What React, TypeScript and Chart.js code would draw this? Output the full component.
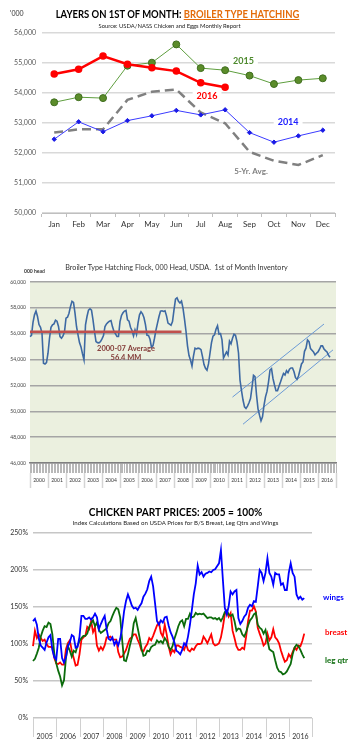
import React, { useEffect, useRef } from 'react';
import { Chart, registerables } from 'chart.js';
Chart.register(...registerables);

const FONT = 'Lato, "Liberation Sans", Arial, sans-serif';

// ---------- Chart 1: Layers on 1st of month ----------
const months = ['Jan', 'Feb', 'Mar', 'Apr', 'May', 'Jun', 'Jul', 'Aug', 'Sep', 'Oct', 'Nov', 'Dec'];
const hatch2016 = [54630, 54790, 55230, 54960, 54840, 54730, 54340, 54190];
const hatch2015 = [53690, 53860, 53830, 54910, 55010, 55620, 54830, 54760, 54580, 54300, 54430, 54490];
const hatch2014 = [52460, 53040, 52710, 53080, 53240, 53420, 53270, 53440, 52680, 52360, 52570, 52760];
const hatch5yr = [52680, 52790, 52790, 53770, 54040, 54120, 53350, 52990, 52040, 51740, 51600, 51930];

// ---------- Chart 2: Broiler type hatching flock ----------
const flockYears = ['2000', '2001', '2002', '2003', '2004', '2005', '2006', '2007', '2008', '2009', '2010', '2011', '2012', '2013', '2014', '2015', '2016'];
const flockValues = [
  55780, 55880, 56870, 57460, 57750, 57330, 56710, 56500, 56040, 53710,
  53660, 53760, 54490, 55650, 56500, 56690, 56760, 57050, 56970, 56560,
  55780, 55650, 55830, 56140, 57200, 57280, 57590, 58110, 58500, 58420,
  57590, 56560, 55910, 55310, 54980, 54440, 53970, 56690, 57330, 57820,
  57930, 57820, 57070, 56170, 55390, 55310, 55290, 55390, 55600, 55860,
  56560, 56760, 56870, 56970, 57020, 56530, 56170, 55990, 55780, 55780,
  56940, 57410, 57620, 57750, 57800, 57070, 56970, 56500, 56250, 55830,
  56300, 55940, 56820, 57460, 57690, 57540, 57230, 56690, 55880, 55860,
  55570, 54950, 55080, 55650, 56300, 56820, 57330, 57750, 57770, 57720,
  57770, 57380, 56820, 56740, 56660, 56940, 57850, 58680, 58780, 58500,
  58370, 58520, 57980, 57130, 56190, 55060, 54310, 53970, 53500, 54280,
  54880, 54820, 54880, 54850, 54770, 54230, 53610, 53320, 53170, 53660,
  54490, 55310, 55810, 55910, 56350, 56610, 55960, 56010, 55520, 54120,
  54360, 54590, 54360, 55420, 55210, 55650, 55960, 55880, 55370, 54510,
  52420, 51590, 50870, 50350, 50220, 50400, 50660, 50990, 51850, 52780,
  52680, 51280, 50190, 49700, 49260, 49570, 50450, 51120, 51540, 52260,
  53190, 53300, 52520, 52030, 51590, 51590, 51930, 52260, 52620, 52930,
  52810, 53140, 52990, 53250, 53350, 53350, 53060, 52600, 52470, 52730,
  53190, 53660, 53810, 54640, 54880, 55520, 55390, 54850, 54720, 54590,
  54360, 54490, 54590, 54800, 55060, 55060, 54820, 54690, 54590, 54330,
  54180,
];
const flockAvgValue = 56150;
const flockAvgSpan = [0, 101];
const trendUpper = [[135, 51100], [196, 56750]];
const trendLower = [[142, 49000], [202, 54750]];

// ---------- Chart 3: Chicken part prices ----------
const priceYears = ['2005', '2006', '2007', '2008', '2009', '2010', '2011', '2012', '2013', '2014', '2015', '2016'];
const wings = [
  131, 134, 126, 107, 98, 95, 92, 102, 109, 112,
  92, 82, 79, 107, 107, 81, 75, 82, 97, 102,
  112, 110, 95, 96, 110, 138, 138, 134, 134, 136,
  133, 136, 141, 136, 120, 127, 133, 138, 120, 107,
  105, 109, 99, 104, 98, 107, 122, 144, 158, 167,
  160, 152, 148, 149, 146, 151, 155, 164, 168, 174,
  185, 191, 178, 155, 131, 126, 132, 129, 136, 137,
  125, 116, 110, 102, 91, 89, 86, 92, 101, 98,
  110, 126, 146, 167, 182, 206, 194, 197, 191, 195,
  196, 198, 197, 200, 201, 205, 209, 227, 187, 149,
  140, 151, 171, 167, 171, 173, 135, 127, 131, 137,
  140, 149, 153, 151, 158, 157, 178, 200, 196, 185,
  196, 216, 196, 191, 180, 196, 194, 194, 180, 182,
  173, 173, 196, 209, 196, 191, 167, 161, 164, 160,
  162,
];
const breast = [
  97, 118, 108, 113, 108, 104, 106, 100, 96, 96,
  95, 81, 74, 73, 75, 72, 72, 93, 101, 105,
  91, 81, 71, 72, 86, 106, 109, 111, 123, 120,
  131, 116, 122, 98, 91, 96, 92, 98, 109, 109,
  110, 106, 106, 106, 89, 82, 83, 87, 92, 100,
  107, 109, 113, 113, 106, 100, 91, 90, 96, 100,
  108, 105, 111, 118, 125, 129, 115, 110, 126, 113,
  97, 86, 92, 89, 98, 98, 96, 95, 92, 100,
  92, 90, 94, 92, 97, 100, 100, 101, 110, 106,
  101, 107, 113, 101, 98, 99, 101, 109, 123, 140,
  145, 137, 142, 118, 108, 97, 92, 92, 95, 93,
  110, 131, 145, 145, 151, 144, 122, 114, 107, 98,
  101, 114, 105, 109, 120, 109, 106, 101, 91, 83,
  76, 78, 86, 82, 89, 95, 92, 98, 97, 104,
  114,
];
const legQtr = [
  77, 80, 87, 95, 110, 118, 124, 123, 129, 127,
  113, 87, 74, 64, 56, 44, 51, 81, 97, 91,
  83, 91, 89, 98, 104, 108, 111, 111, 114, 123,
  128, 132, 124, 129, 119, 115, 117, 119, 121, 128,
  131, 138, 144, 149, 147, 136, 106, 78, 77, 86,
  98, 108, 128, 135, 122, 109, 94, 84, 85, 91,
  90, 96, 98, 99, 105, 102, 104, 101, 108, 104,
  96, 92, 97, 107, 115, 124, 130, 132, 124, 134,
  134, 141, 136, 137, 142, 140, 141, 140, 141, 138,
  135, 136, 136, 134, 135, 133, 135, 131, 136, 143,
  145, 140, 138, 140, 131, 118, 121, 120, 113, 110,
  116, 125, 132, 135, 140, 142, 126, 122, 120, 114,
  119, 105, 93, 91, 89, 78, 68, 63, 62, 59,
  60, 63, 68, 73, 86, 95, 99, 97, 92, 86,
  81,
];

const MM = ['01', '02', '03', '04', '05', '06', '07', '08', '09', '10', '11', '12'];
function monthLabels(years: string[]) {
  const out: string[] = [];
  years.forEach((y) => MM.forEach((m) => out.push(`${y}-${m}`)));
  out.push(`${Number(years[years.length - 1]) + 1}-01`);
  return out;
}

type TextItem = {
  text: string; x?: number; y: number; color: string; font: string;
  align?: CanvasTextAlign; bg?: string; dxFromRight?: number;
};

function textPlugin(items: TextItem[]) {
  return {
    id: 'textLabels',
    afterDatasetsDraw(chart: any) {
      const { ctx, chartArea } = chart;
      const xs = chart.scales.x;
      const ys = chart.scales.y;
      for (const it of items) {
        const px = it.dxFromRight != null ? chartArea.right + it.dxFromRight : xs.getPixelForValue(it.x);
        const py = ys.getPixelForValue(it.y);
        ctx.save();
        ctx.font = it.font;
        ctx.textAlign = it.align || 'center';
        ctx.textBaseline = 'middle';
        if (it.bg) {
          const w = ctx.measureText(it.text).width;
          const left = it.align === 'left' ? px : px - w / 2;
          ctx.fillStyle = it.bg;
          ctx.fillRect(left - 4, py - 6, w + 8, 12);
        }
        ctx.fillStyle = it.color;
        ctx.fillText(it.text, px, py);
        ctx.restore();
      }
    },
  };
}

function areaBg(color: string) {
  return {
    id: 'areaBg',
    beforeDraw(chart: any) {
      const { ctx, chartArea } = chart;
      ctx.save();
      ctx.fillStyle = color;
      ctx.fillRect(chartArea.left, chartArea.top, chartArea.right - chartArea.left, chartArea.bottom - chartArea.top);
      ctx.restore();
    },
  };
}

function yearBoxes(from: number, to: number, color: string, width: number) {
  return {
    id: 'yearBoxes',
    afterDraw(chart: any) {
      const { ctx, chartArea } = chart;
      const xs = chart.scales.x;
      const n = xs.getLabels().length;
      ctx.save();
      ctx.strokeStyle = color;
      ctx.lineWidth = width;
      for (let i = 0; i < n; i += 12) {
        const px = Math.round(xs.getPixelForValue(i)) + 0.5;
        ctx.beginPath();
        ctx.moveTo(px, chartArea.bottom + from);
        ctx.lineTo(px, chartArea.bottom + to);
        ctx.stroke();
      }
      ctx.restore();
    },
  };
}

function ChartCanvas({ top, height, build }: { top: number; height: number; build: () => any }) {
  const ref = useRef<HTMLCanvasElement>(null);
  useEffect(() => {
    const chart = new Chart(ref.current as HTMLCanvasElement, build());
    return () => chart.destroy();
  }, []);
  return (
    <canvas
      ref={ref}
      width={351}
      height={height}
      style={{ position: 'absolute', left: 0, top, width: 351, height }}
    />
  );
}

const basePlugins = { legend: { display: false }, tooltip: { enabled: false } };

function layersConfig() {
  return {
    type: 'line',
    data: {
      labels: months,
      datasets: [
        { label: '2016', data: hatch2016, borderColor: '#FF0000', backgroundColor: '#FF0000', pointBorderColor: '#FF0000', borderWidth: 2.5, pointRadius: 2.5 },
        { label: '2015', data: hatch2015, borderColor: '#5E9E3E', backgroundColor: '#5B8C2A', pointBorderColor: '#3F6E1E', pointBorderWidth: 1, borderWidth: 1, pointRadius: 3.5 },
        { label: '2014', data: hatch2014, borderColor: '#3B3BFF', backgroundColor: '#1A1AE6', pointBorderColor: '#1A1AE6', borderWidth: 1, pointRadius: 2.2, pointStyle: 'rectRot' },
        { label: '5-Yr. Avg.', data: hatch5yr, borderColor: '#808080', borderWidth: 2.5, borderDash: [9, 5], pointRadius: 0 },
      ],
    },
    options: {
      responsive: false,
      animation: false,
      layout: { padding: { top: 33, left: 6, right: 16, bottom: 7 } },
      plugins: basePlugins,
      scales: {
        x: {
          offset: true,
          grid: { offset: true, drawOnChartArea: false, tickLength: 4, color: '#bfbfbf' },
          border: { color: '#bfbfbf' },
          ticks: { font: { family: FONT, size: 8 }, color: '#333', padding: 3, maxRotation: 0, autoSkip: false },
          afterFit: (s: any) => { s.height = 20; },
        },
        y: {
          min: 50000, max: 56000,
          ticks: { stepSize: 1000, font: { family: FONT, size: 7 }, color: '#595959', padding: 6 },
          grid: { color: '#d9d9d9', lineWidth: 1.5, drawTicks: false },
          border: { display: false },
          afterFit: (s: any) => { s.width = 36; },
        },
      },
    },
    plugins: [
      textPlugin([
        { text: '2015', x: 7.75, y: 55070, color: '#4E8A2E', font: `bold 9px ${FONT}`, bg: '#ffffff' },
        { text: '2016', x: 6.26, y: 53900, color: '#FF0000', font: `bold 9px ${FONT}`, bg: '#ffffff' },
        { text: '2014', x: 9.58, y: 53030, color: '#2020FF', font: `bold 9px ${FONT}`, bg: '#ffffff' },
        { text: '5-Yr. Avg.', x: 8.06, y: 51370, color: '#7F7F7F', font: `bold 8px ${FONT}` },
      ]),
    ],
  };
}

function flockConfig() {
  const labels = monthLabels(flockYears);
  return {
    type: 'line',
    data: {
      labels,
      datasets: [
        {
          data: flockAvgSpan.map((i) => ({ x: labels[i], y: flockAvgValue })),
          borderColor: '#C0504D', borderWidth: 2.5, pointRadius: 0,
        },
        { data: flockValues, borderColor: '#3D69A3', borderWidth: 1.6, pointRadius: 0 },
        { data: trendUpper.map(([i, v]) => ({ x: labels[i], y: v })), borderColor: '#6C9BD6', borderWidth: 1, pointRadius: 0 },
        { data: trendLower.map(([i, v]) => ({ x: labels[i], y: v })), borderColor: '#6C9BD6', borderWidth: 1, pointRadius: 0 },
      ],
    },
    options: {
      responsive: false,
      animation: false,
      layout: { padding: { top: 32, left: 4, right: 15, bottom: 4 } },
      plugins: basePlugins,
      scales: {
        x: {
          grid: { drawOnChartArea: false, tickLength: 10, color: '#b8b8b8', lineWidth: 1 },
          border: { color: '#808080', width: 1.5 },
          ticks: {
            autoSkip: false, maxRotation: 0, minRotation: 0, padding: 4,
            font: { family: FONT, size: 5 }, color: '#333',
            callback: (_v: any, i: number) => (i % 12 === 6 ? flockYears[Math.floor(i / 12)] : ''),
          },
          afterFit: (s: any) => { s.height = 28; },
        },
        y: {
          min: 46000, max: 60000,
          ticks: { stepSize: 2000, font: { family: FONT, size: 5 }, color: '#444', padding: 4 },
          grid: { color: '#a5a5a5', lineWidth: 1.5, drawTicks: false },
          border: { display: false },
          afterFit: (s: any) => { s.width = 26; },
        },
      },
    },
    plugins: [
      areaBg('#EBF0DF'),
      yearBoxes(10, 25, '#d4d4d4', 1.5),
      textPlugin([
        { text: '2000-07 Average', x: 64, y: 54820, color: '#843C39', font: `bold 7.5px ${FONT}` },
        { text: '56.4 MM', x: 64, y: 54120, color: '#843C39', font: `bold 7.5px ${FONT}` },
      ]),
    ],
  };
}

function pricesConfig() {
  const labels = monthLabels(priceYears);
  return {
    type: 'line',
    data: {
      labels,
      datasets: [
        { data: wings, borderColor: '#0000FF', borderWidth: 1.8, pointRadius: 0 },
        { data: legQtr, borderColor: '#0B6B0B', borderWidth: 1.8, pointRadius: 0 },
        { data: breast, borderColor: '#FF0000', borderWidth: 1.8, pointRadius: 0 },
      ],
    },
    options: {
      responsive: false,
      animation: false,
      layout: { padding: { top: 28, left: 4, right: 39, bottom: 5 } },
      plugins: basePlugins,
      scales: {
        x: {
          grid: { display: false },
          border: { display: false },
          ticks: {
            autoSkip: false, maxRotation: 0, minRotation: 0, padding: 7,
            font: { family: FONT, size: 7 }, color: '#333',
            callback: (_v: any, i: number) => (i % 12 === 6 ? priceYears[Math.floor(i / 12)] : ''),
          },
          afterFit: (s: any) => { s.height = 22; },
        },
        y: {
          min: 0, max: 250,
          ticks: { stepSize: 50, font: { family: FONT, size: 7 }, color: '#333', padding: 5, callback: (v: any) => `${v}%` },
          grid: { color: '#c6c6c6', lineWidth: 1.5, drawTicks: false },
          border: { display: false },
          afterFit: (s: any) => { s.width = 29; },
        },
      },
    },
    plugins: [
      yearBoxes(0, 19, '#d0d0d0', 1),
      textPlugin([
        { text: 'wings', dxFromRight: 11, y: 162.5, color: '#0000FF', font: `bold 8px ${FONT}`, align: 'left' },
        { text: 'breast', dxFromRight: 13, y: 115, color: '#FF0000', font: `bold 8px ${FONT}`, align: 'left' },
        { text: 'leg qtr', dxFromRight: 13, y: 77.5, color: '#0B6B0B', font: `bold 8px ${FONT}`, align: 'left' },
      ]),
    ],
  };
}

const abs = (top: number, extra: React.CSSProperties = {}): React.CSSProperties => ({
  position: 'absolute', top, left: 0, width: 351, textAlign: 'center', fontFamily: FONT, whiteSpace: 'nowrap', lineHeight: 1, ...extra,
});

export default function App() {
  return (
    <div style={{ position: 'absolute', left: 0, top: 0, width: 351, height: 748, background: '#fff', overflow: 'hidden' }}>
      <ChartCanvas top={0} height={240} build={layersConfig} />
      <ChartCanvas top={250} height={245} build={flockConfig} />
      <ChartCanvas top={505} height={240} build={pricesConfig} />

      <div style={abs(10, { left: 10, width: 'auto', textAlign: 'left', fontSize: 7, color: '#333' })}>'000</div>
      <div style={abs(9, { left: 2, fontSize: 10.5, fontWeight: 700, color: '#000', transform: 'scaleX(0.9)' })}>
        LAYERS ON 1ST OF MONTH:{' '}
        <span style={{ color: '#E46C0A', textDecoration: 'underline' }}>BROILER TYPE HATCHING</span>
      </div>
      <div style={abs(23, { left: -6, fontSize: 6.5, color: '#222', transform: 'scaleX(0.9)' })}>Source: USDA/NASS Chicken and Eggs Monthly Report</div>

      <div style={abs(264, { left: 1, fontSize: 7.2, color: '#333' })}>
        Broiler Type Hatching Flock, 000 Head, USDA.&nbsp; 1st of Month Inventory
      </div>
      <div style={abs(269, { left: 24, width: 'auto', textAlign: 'left', fontSize: 5, fontWeight: 700, color: '#333' })}>000 head</div>

      <div style={abs(506, { left: 0, fontSize: 11, fontWeight: 700, color: '#000', transform: 'scaleX(0.92)' })}>CHICKEN PART PRICES: 2005 = 100%</div>
      <div style={abs(520, { left: 0, fontSize: 6.5, color: '#222', transform: 'scaleX(0.94)' })}>
        Index Calculations Based on USDA Prices for B/S Breast, Leg Qtrs and Wings
      </div>
    </div>
  );
}
